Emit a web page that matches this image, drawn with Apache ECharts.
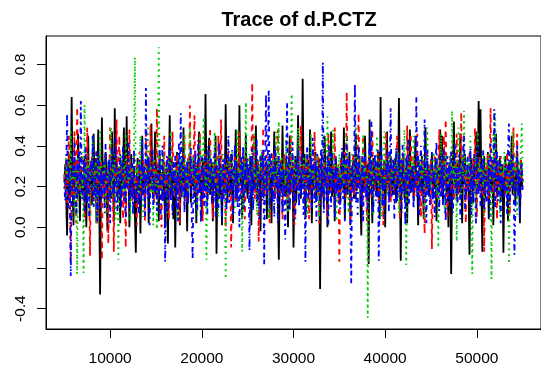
<!DOCTYPE html>
<html>
<head>
<meta charset="utf-8">
<script src="https://cdn.jsdelivr.net/npm/echarts@6/dist/echarts.min.js"></script>
<style>
html,body{margin:0;padding:0;background:#fff;}
#chart{width:541px;height:371px;}
</style>
</head>
<body>
<div id="chart"></div>
<script>
// Iteration index of the thinned chains
const iterStart = 5000;
const iterStep = 100;

// Chain values (501 draws per chain)
const chain1 = [
.22,.31,.15,-.04,.27,.36,.12,.24,.64,.19,.01,.33,.21,.28,.14,.46,.25,.03,.30,.18,
.26,.13,.35,.20,.00,.29,.45,.16,.23,.31,.11,.27,.46,.19,.34,.02,.24,.48,.15,-.33,
.17,.54,.22,.30,.12,.37,.25,-.02,.32,.19,.28,.14,.47,.23,.03,.585,.26,.35,.16,.29,
.21,.02,.33,.18,.27,.49,.13,.24,.545,.20,.31,.00,.26,.36,.15,.22,.30,.05,-.125,.25,
.34,.18,.28,-.03,.23,.45,.16,.30,.12,.27,.21,.35,.02,.25,.32,.51,.19,.14,.29,.47,
.16,.24,.31,.03,.36,.20,.27,.13,.33,.22,.00,.29,.18,-.08,.26,.55,.15,.34,.21,.04,
.28,-.10,.23,.37,.17,.30,.01,.25,.33,.19,.49,.14,.27,.21,-.02,.32,.24,.36,.12,.29,
.20,.35,.15,.26,.02,.31,.23,.47,.17,.28,.04,.34,.22,.18,.655,.25,.13,.30,.44,.16,
.24,.32,.03,.27,.19,.45,-.13,.22,.29,.14,.35,.21,.01,.31,.26,.17,.605,.23,.12,.33,
.27,.16,.36,.21,.02,.30,.24,.48,.13,.28,.19,.60,.22,.34,.04,.26,.32,.17,.46,.20,
.14,.29,.23,.35,.01,.27,.31,.18,.25,.50,.12,.33,.20,.26,-.02,.30,.37,.15,.24,.21,
.32,.04,.28,.19,.36,.24,.02,.30,.22,.47,.16,.27,.34,.13,-.16,.25,.31,.18,.50,.20,
.26,.15,.33,.22,.00,.29,.45,.17,.24,.31,-.10,.21,.35,.12,.27,.55,.19,.30,.14,.25,
.73,.23,.36,.04,.28,.20,.33,.16,.48,.24,.02,.30,.26,.18,.37,.13,.27,.22,.34,-.303,
.19,.31,.25,.12,.45,.21,.28,.00,.33,.17,.26,.47,.15,.23,.30,.03,.35,.24,.18,.29,
.22,.13,.34,.27,.19,.49,.04,.26,.31,.16,.24,.37,.01,.29,.21,.33,.14,.25,.46,.18,
.28,.20,.35,.12,-.04,.30,.23,.17,.45,.26,.14,.31,-.18,.53,.21,.27,.02,.34,.19,.25,
.32,.15,.24,.37,.04,.64,.22,.29,.18,.33,.00,.26,.47,.20,.28,.13,.35,.23,.16,.30,
.21,.34,.12,.27,.19,.635,.25,-.165,.31,.18,.36,.14,.28,.22,.02,.33,.26,.48,.17,.24,
.30,.13,.27,.45,.20,.25,.01,.32,.23,.17,.35,.26,.04,.29,.49,.19,.24,.31,.15,.28,
.22,.36,.14,.27,.19,.33,.03,.25,.30,.17,.48,.23,.45,.12,.29,.21,.34,.16,.26,.00,
.31,.24,-.23,.19,.35,.52,.20,.28,.13,.33,.25,.17,.46,.22,.02,.30,.26,.36,.15,.24,
.29,.18,-.135,.27,.34,.21,.12,.31,.25,.47,.16,.30,.62,.23,.58,.19,-.12,.28,.35,.14,
.26,.21,.37,.04,.30,.24,.17,.33,.01,.27,.22,.46,.15,.29,.20,.34,.13,.25,.31,-.125,
.23,.35,.18,.28,.03,.32,.21,.26,.45,.16,.24,.30,.12,.27,.36,.19,.25,.02,.33,.20,
.24
];
const chain2 = [
.26,.18,.34,.12,.29,.45,.21,-.165,.31,.24,.15,.47,.27,.02,.59,.22,.33,.17,.28,.36,
.19,.25,.04,.32,.23,.49,.16,.30,-.14,.27,.35,.20,.13,.29,.24,.37,.01,.31,.22,.26,
.33,-.16,.28,.19,.36,.14,.25,.30,-.08,.21,.49,.17,.34,.26,-.12,.31,.23,.53,.18,.27,
.45,.15,.24,.32,.04,.29,.20,-.10,.35,.26,.17,.48,.23,.30,.13,.27,.36,.19,.25,.01,
.31,.22,.37,.14,.28,.19,.33,.25,.03,.46,.21,.30,.16,.26,.50,.18,.24,.32,.12,.29,
.20,.585,.27,.15,.34,.23,.00,.30,.25,.45,.17,.28,.21,.35,.04,.26,.32,.19,.47,.24,
.14,.31,.22,.36,.18,.27,.02,.33,.24,.29,.16,.45,.21,.26,.12,.34,.25,.60,.20,.30,
.23,.35,.55,.17,.28,.13,.32,.24,.46,.19,.27,.03,.30,.22,.36,.15,.26,.33,.18,.49,
.24,.29,.04,.35,.20,.27,.31,.16,.45,.22,.26,.53,.14,.30,.19,.34,.00,.28,.23,.37,
.17,.32,-.10,.25,.29,.21,.36,.13,.27,.33,.19,.47,.24,.15,.30,.22,.35,.04,.28,.26,
.34,.20,.27,.16,.31,.71,.23,.45,.14,.29,.25,.33,-.07,.21,.36,.18,.27,.49,.12,.30,
.22,.35,.17,.28,.02,.32,.24,.19,.37,.26,.14,.30,.21,.48,.16,.27,.33,.23,.04,.29,
.36,.18,.25,.31,.13,.28,.22,.46,.17,.26,.33,.01,.30,.24,.20,.35,.15,.27,.50,.21,
.25,.32,.14,.29,.19,.36,.23,.04,.34,.27,.18,.31,.24,.47,.16,.28,.21,.35,.02,.30,
.22,.37,.15,.26,.33,.19,.28,.05,.46,.24,.30,.17,.25,.34,.20,.49,.13,.29,.23,.31,
-.17,.26,.34,.18,.29,.23,.37,.14,.665,.27,.20,.32,.04,.28,.25,.36,.16,.30,.22,.19,
.33,.56,.24,.15,.30,.21,.45,.17,.27,.32,.03,.26,.35,.20,.29,.14,.48,.23,.28,.18,
.31,.22,.37,.13,.26,.34,.19,.29,.01,.32,.25,.47,.17,.28,.21,.35,.12,.27,.33,.24,
.16,.30,.23,.45,.20,.27,.04,.33,.25,.19,.36,.22,.29,.14,.50,.26,.31,.18,.46,.24,
.28,.35,.15,.27,.21,.46,.17,.30,.24,.05,.33,.26,.20,-.03,.29,.37,.18,.25,.31,.22,
.34,-.107,.27,.19,.36,.23,.30,.14,.28,.48,.21,.32,.16,.26,.45,.20,.53,.25,.04,.29,
.23,.35,.18,.30,.26,.13,.33,.21,.46,.27,.16,.31,.24,.565,.19,.28,.36,.22,.02,.32,
.26,.20,.37,.15,.29,.24,.34,.18,.49,.27,.05,.31,.23,.35,.19,.28,.16,.33,-.12,.25,
.30,.21,.36,.14,.27,.585,.22,.32,.17,.29,.45,.24,.04,.33,.26,.20,.35,.18,.28,.23,
.31,.16,.26,.37,.20,.29,.06,.34,.24,.27,.49,.19,.32,.22,.46,.15,.28,.25,.33,.21,
.23
];
const chain3 = [
.19,.29,.36,.14,.25,.32,.21,.47,.17,.27,.33,.03,.28,.24,-.23,.35,.20,.31,.15,.26,
.37,-.225,.60,.23,.30,.16,.34,.27,.05,.29,.21,.45,.18,.25,.32,.02,.28,.35,.22,.48,
.24,.17,.30,.26,.36,.06,.29,.22,.33,.19,.27,.49,.15,.31,.23,.37,.04,.28,.25,-.16,
.30,.21,.35,.18,.26,.32,.14,.46,.24,.28,.20,.34,.03,.27,.31,.23,.36,.835,.19,.29,
.25,.33,.16,.45,.22,.28,.05,.31,.26,.35,.19,.50,.23,.29,.15,.32,.27,.01,.34,.21,
.28,-.01,.24,.885,.20,.33,.26,.17,.37,.29,.22,.31,.07,.27,.35,.19,.47,.25,.30,.16,
.32,.23,.28,.04,.36,.25,.30,.19,.34,.27,.15,.46,.22,.29,.33,.18,.26,.49,.21,.31,
.24,.35,.17,.28,.32,.06,.30,.26,.45,.21,.27,.33,.54,.22,.29,-.16,.25,.34,.19,.37,
.28,.16,.31,.24,.47,.20,.33,.27,.05,.35,.23,.30,.18,.36,.26,.21,-.254,.32,.25,.29,
.34,.19,.27,.37,.22,.30,.07,.33,.26,.48,.18,.29,.24,.35,-.12,.28,.32,.21,.615,.25,
.30,.23,.36,.17,.27,.33,.20,.46,.25,.29,.06,.34,.22,.31,.26,.38,.16,.28,.35,.24,
.19,.32,.27,.04,.36,.24,.30,.21,.34,.28,.17,.47,.25,.31,.52,.22,.29,.35,.15,.27,
.33,.20,.45,.26,.07,.31,.23,.36,.655,.29,.18,.27,.34,.21,.30,.49,.16,.25,.32,.28,
.22,.35,.19,.29,.37,.06,.27,.31,.24,.46,.20,.33,.26,.17,.30,.36,.23,.28,.05,.34,
.27,.21,.32,.45,.15,.29,.25,.545,.18,.31,.35,.23,.28,.48,.19,.26,.33,.03,.30,.24,
.36,.22,.29,.17,.34,.27,.31,.20,.45,.25,.07,.32,.28,.23,.37,.19,.30,.26,.50,.21,
.29,.35,.16,.27,.33,.22,.46,.24,.30,.18,.26,-.445,.31,.37,.20,.28,.34,.06,.25,.32,
.23,.45,.27,.19,.31,.35,.05,.29,.24,.47,.21,.33,.26,.16,.30,.36,.22,.28,.18,.34,
.27,.20,.32,.25,.37,.07,.30,.23,.35,.28,.17,.48,.26,-.185,.31,.22,.36,.19,.29,.33,
.24,.45,.21,.30,.27,.15,.34,.26,.32,.19,.36,.23,.29,.04,.35,.28,.49,.20,.31,.25,
.18,.33,.27,.37,.22,.29,.16,.34,-.10,.30,.25,.46,.21,.28,.32,.07,.36,.24,.27,.31,
.20,.35,.26,.573,.23,.30,.18,.33,-.07,.27,.49,.22,.31,.16,.36,.25,.573,.29,.21,.34,
.26,.32,.19,.45,.24,-.23,.30,.27,.35,.08,.28,.47,.22,.33,.18,.31,.25,.37,.06,.29,
.34,.21,.28,.36,.17,.31,-.254,.26,.46,.23,.56,.29,.20,.33,.27,.07,.35,.24,.30,.19,
.37,.25,.29,.16,.32,-.18,.27,.34,.22,.47,.19,.30,.26,.36,.06,.28,.33,.21,.38,.51,
.22
];
const chain4 = [
.20,.13,.27,.56,.09,.30,.18,-.24,.25,.35,.11,.42,.22,.06,.31,.16,.37,.21,.62,.14,
.17,.34,.08,.40,.22,.12,.29,.05,.27,.33,.19,.45,.10,.24,.15,.38,.03,.23,.35,.09,
.28,.14,.21,.32,.07,.41,.18,.26,.11,.34,.02,.27,.39,.16,.23,.12,.44,.20,.08,.29,
.16,.36,.10,.25,.40,.13,.22,.04,.31,.19,.42,.09,.27,.15,.34,.06,.38,.21,.12,.26,
.18,.07,.33,.24,.11,.43,.15,.30,.05,.685,.22,.14,.35,.01,.28,.19,.39,.10,.25,.17,
.31,.08,.26,.16,.38,.04,.21,.40,.12,.27,-.17,.20,.35,.09,.24,.44,.13,.29,.06,.32,
.19,.36,.10,.25,.03,.41,.18,.56,.14,.22,.37,.07,.30,.15,.33,.11,.27,.20,.39,.05,
-.16,.32,.12,.38,.20,.08,.43,.17,.26,.02,.35,.14,.29,.10,.37,.23,.06,.40,.16,.24,
.34,.11,.27,.15,.39,.05,.31,.22,.09,.42,.18,.28,.03,.33,.13,.36,.21,.08,.30,.45,
.12,.26,.19,.38,.06,.23,.41,.14,.32,.10,.27,.00,.22,.35,.16,.40,.09,.29,.18,.34,
.21,.31,-.115,.35,.14,.39,.08,.25,.18,.33,.43,.11,.27,.04,.36,.20,.13,.38,-.19,.28,
.655,.16,.34,.68,.09,.24,.37,.12,.30,.05,.40,.19,.26,.02,.35,.15,.32,.22,.07,.29,
.11,-.06,.31,.615,.17,.36,.08,.28,.21,.42,.13,.25,.04,.34,.18,.39,.10,.27,.15,.37,
.23,.06,.29,-.17,.31,.40,.14,.26,.19,.35,.09,.44,.20,.12,.33,.03,.36,.17,.28,.11,
.38,.15,.81,.07,.24,.30,.13,.35,.01,.41,.22,.10,.37,.19,.27,.05,.34,.16,.29,.12,
.25,.09,.20,.39,.14,.34,.03,.30,.43,.17,.23,.35,.08,-.28,.31,.18,.26,.705,.12,.33,
.06,.40,.19,.27,.11,.35,.02,.30,.37,.14,.24,.09,.29,.42,.16,.52,.18,.07,.25,.36,
.13,.23,.38,-.165,.20,.31,.40,.10,.28,.05,.16,.32,.22,.37,.08,.30,.585,.15,.19,.34,
.04,.27,.39,.12,.22,.36,.15,.33,.07,.41,.18,.25,.01,.35,.20,.44,.11,.29,.17,.23,
.31,.09,.26,.19,.64,.14,.36,.06,.30,.40,.17,.24,.12,.53,.21,.02,.38,.16,.29,.10,
.24,.37,.13,.28,.05,.33,.42,.18,.22,.08,.36,.15,.30,.11,.39,.20,.03,.27,.35,.14,
.32,.10,.38,.21,.07,.26,.41,.17,.30,.12,.25,.36,.04,.29,.19,.34,.45,.09,.23,.18,
.35,.13,.24,.39,.06,.28,.14,.36,.21,.01,.31,.40,.16,.27,.10,.34,.19,.38,.08,.23,
.28,.12,.20,.33,.05,.41,.17,.30,.24,.58,.09,.26,.37,.13,.22,.35,.02,.31,.18,.25,
.14,.30,.23,.06,.38,.51,.11,.33,.19,.36,.27,-.135,.08,.24,.40,.15,.29,.05,.21,.32,
.18
];

// Smoothed (lowess) curves per chain
const smoothIters = [5000, 15000, 25000, 35000, 45000, 55000];
const smooth1 = [0.219, 0.223, 0.226, 0.224, 0.220, 0.216];
const smooth2 = [0.221, 0.224, 0.227, 0.225, 0.221, 0.218];
const smooth3 = [0.219, 0.222, 0.225, 0.223, 0.219, 0.216];
const smooth4 = [0.220, 0.223, 0.226, 0.224, 0.220, 0.217];

// Axis ticks
const xTickValues = [10000, 20000, 30000, 40000, 50000];
const xTickLabels = ['10000', '20000', '30000', '40000', '50000'];
const yTickValues = [-0.4, -0.2, 0.0, 0.2, 0.4, 0.6, 0.8];
const yTickLabels = ['-0.4', '', '0.0', '0.2', '0.4', '0.6', '0.8'];

const chains = [chain1, chain2, chain3, chain4];
const smooths = [smooth1, smooth2, smooth3, smooth4];
const colors = ['#000000', '#FF0000', '#00CD00', '#0000FF'];
const dashes = ['solid', [5, 5], [1.8, 4], [1.8, 4, 5, 4]];

const series = [];
chains.forEach((c, k) => {
  series.push({
    type: 'line',
    data: c.map((v, i) => [iterStart + i * iterStep, v]),
    showSymbol: false, symbol: 'none',
    lineStyle: { color: colors[k], width: 1.8, type: dashes[k] },
    silent: true, z: 2 + k
  });
});
smooths.forEach((s, k) => {
  series.push({
    type: 'line',
    data: s.map((v, i) => [smoothIters[i], v]),
    smooth: true,
    showSymbol: false, symbol: 'none',
    lineStyle: { color: colors[k], width: 2.5, type: dashes[k] },
    silent: true, z: 10 + k
  });
});

function lookup(values, labels, v) {
  for (let i = 0; i < values.length; i++) {
    if (Math.abs(values[i] - v) < 1e-9) return labels[i];
  }
  return '';
}

const chart = echarts.init(document.getElementById('chart'), null, { renderer: 'canvas' });
chart.setOption({
  animation: false,
  backgroundColor: '#fff',
  title: {
    text: 'Trace of d.P.CTZ',
    left: 294, top: 5, textAlign: 'center',
    textStyle: { fontFamily: 'Liberation Sans, Arial, sans-serif', fontSize: 20, fontWeight: 'bold', color: '#000' }
  },
  grid: {
    left: 46, top: 36, width: 498, height: 293,
    show: true, borderColor: '#000', borderWidth: 1, backgroundColor: 'transparent',
    containLabel: false
  },
  xAxis: {
    type: 'value', min: 3000, max: 57000,
    splitLine: { show: false },
    axisLine: { show: true, onZero: false, lineStyle: { color: '#000', width: 1 } },
    axisTick: { show: true, customValues: xTickValues, length: 9, lineStyle: { color: '#000' } },
    axisLabel: {
      customValues: xTickValues,
      formatter: v => lookup(xTickValues, xTickLabels, v),
      margin: 22, color: '#000', fontSize: 15.5,
      fontFamily: 'Liberation Sans, Arial, sans-serif'
    }
  },
  yAxis: {
    type: 'value', min: -0.5, max: 0.94,
    splitLine: { show: false },
    axisLine: { show: true, onZero: false, lineStyle: { color: '#000', width: 1 } },
    axisTick: { show: true, customValues: yTickValues, length: 9, lineStyle: { color: '#000' } },
    axisLabel: {
      customValues: yTickValues,
      formatter: v => lookup(yTickValues, yTickLabels, v),
      rotate: 90, margin: 17, color: '#000', fontSize: 15.5,
      fontFamily: 'Liberation Sans, Arial, sans-serif'
    }
  },
  series: series
});
</script>
</body>
</html>
